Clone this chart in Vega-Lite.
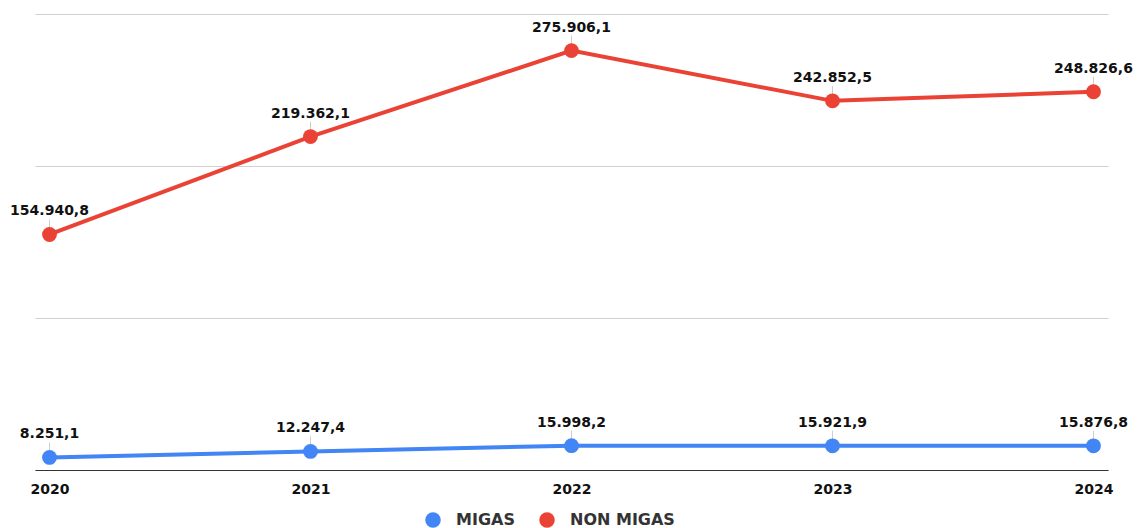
{
  "$schema": "https://vega.github.io/schema/vega-lite/v6.json",
  "autosize": {"type": "none"},
  "width": 1073,
  "height": 456,
  "padding": {"left": 35, "top": 14, "right": 36, "bottom": 58},
  "background": "white",
  "config": {
    "locale": {"number": {"decimal": ",", "thousands": ".", "grouping": [3], "currency": ["Rp", ""]}},
    "view": {"stroke": null},
    "font": "DejaVu Sans"
  },
  "data": {
    "values": [
      {"year": "2020", "type": "MIGAS", "value": 8251.1},
      {"year": "2021", "type": "MIGAS", "value": 12247.4},
      {"year": "2022", "type": "MIGAS", "value": 15998.2},
      {"year": "2023", "type": "MIGAS", "value": 15921.9},
      {"year": "2024", "type": "MIGAS", "value": 15876.8},
      {"year": "2020", "type": "NON MIGAS", "value": 154940.8},
      {"year": "2021", "type": "NON MIGAS", "value": 219362.1},
      {"year": "2022", "type": "NON MIGAS", "value": 275906.1},
      {"year": "2023", "type": "NON MIGAS", "value": 242852.5},
      {"year": "2024", "type": "NON MIGAS", "value": 248826.6}
    ]
  },
  "encoding": {
    "x": {
      "field": "year", "type": "ordinal",
      "scale": {"type": "point", "padding": 0.0556},
      "axis": {
        "title": null, "labelAngle": 0, "ticks": false, "domain": true,
        "domainColor": "#333333", "domainWidth": 1,
        "labelFont": "DejaVu Sans", "labelFontWeight": "bold", "labelFontSize": 14,
        "labelColor": "#111111", "labelPadding": 12, "grid": false
      }
    },
    "y": {
      "field": "value", "type": "quantitative",
      "scale": {"domain": [0, 300000], "nice": false},
      "axis": {
        "title": null, "labels": false, "ticks": false, "domain": false,
        "values": [0, 100000, 200000, 300000],
        "grid": true, "gridColor": "#d0d0d0", "gridWidth": 1
      }
    },
    "color": {
      "field": "type", "type": "nominal",
      "scale": {"domain": ["MIGAS", "NON MIGAS"], "range": ["#4285F4", "#EA4335"]},
      "legend": {
        "title": null, "orient": "none", "direction": "horizontal",
        "legendX": 390, "legendY": 498,
        "symbolType": "circle", "symbolSize": 240, "symbolStrokeWidth": 0,
        "labelFont": "DejaVu Sans", "labelFontWeight": "bold", "labelFontSize": 16,
        "labelColor": "#333333", "columnPadding": 24, "labelOffset": 15
      }
    }
  },
  "layer": [
    {
      "mark": {"type": "rule", "color": "#cccccc", "strokeWidth": 1, "y2Offset": -15},
      "encoding": {
        "y2": {"field": "value"},
        "color": {"value": "#cccccc"}
      }
    },
    {
      "mark": {"type": "line", "strokeWidth": 4}
    },
    {
      "mark": {"type": "circle", "size": 220, "opacity": 1}
    },
    {
      "mark": {"type": "text", "baseline": "alphabetic", "dy": -19, "font": "DejaVu Sans", "fontWeight": "bold", "fontSize": 14, "color": "#111111"},
      "encoding": {
        "text": {"field": "value", "type": "quantitative", "format": ",.1f"},
        "color": {"value": "#111111"}
      }
    }
  ]
}
